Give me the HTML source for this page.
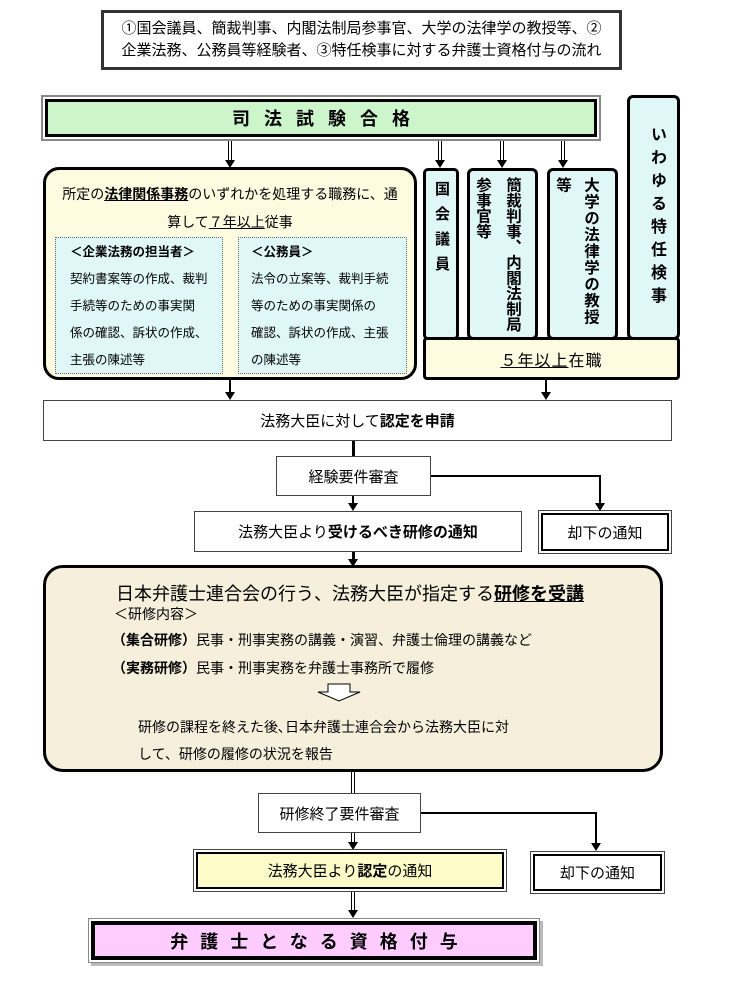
<!DOCTYPE html>
<html><head><meta charset="utf-8">
<style>
body{margin:0;width:741px;height:1005px;background:#fff;position:relative;overflow:hidden;font-family:"Liberation Sans","Noto Sans CJK JP",sans-serif;color:#000}
.a{position:absolute;box-sizing:border-box}
.c{display:flex;align-items:center;justify-content:center}
.vl{position:absolute;background:#000}
.ah{position:absolute;width:0;height:0;border-left:5px solid transparent;border-right:5px solid transparent;border-top:8px solid #000}
.dl{position:absolute;width:4px;border-left:1.5px solid #000;border-right:1.5px solid #000;box-sizing:border-box}
.vt{writing-mode:vertical-rl;font-weight:bold;font-size:15px}
u{text-decoration:underline}
</style></head><body>

<div class="a c" style="left:101px;top:10px;width:521px;height:60px;border:3px solid #333;font-size:15px;line-height:22px;text-align:center;flex-direction:column">
<div>①国会議員、簡裁判事、内閣法制局参事官、大学の法律学の教授等、②</div>
<div>企業法務、公務員等経験者、③特任検事に対する弁護士資格付与の流れ</div>
</div>

<div class="a c" style="left:41px;top:95px;width:560px;height:46px;border:2px solid #888;background:#fff;padding:2px">
<div class="c" style="width:100%;height:100%;border:3px solid #000;background:#ccf5cc;font-weight:bold;font-size:18px;letter-spacing:14px;padding-left:14px;box-sizing:border-box">司法試験合格</div>
</div>

<div class="dl" style="left:228px;top:141px;height:20px"></div><div class="ah" style="left:225px;top:160px"></div>
<div class="dl" style="left:438px;top:141px;height:20px"></div><div class="ah" style="left:435px;top:160px"></div>
<div class="dl" style="left:500px;top:141px;height:20px"></div><div class="ah" style="left:497px;top:160px"></div>
<div class="dl" style="left:561px;top:141px;height:20px"></div><div class="ah" style="left:558px;top:160px"></div>

<div class="a" style="left:43px;top:167px;width:374px;height:213px;border:3px solid #000;border-radius:16px;background:#fdfbe0">
<div style="position:absolute;left:0;right:0;top:10px;text-align:center;font-size:14px;line-height:28px">所定の<b><u>法律関係事務</u></b>のいずれかを処理する職務に、通<br>算して<u>７年以上</u>従事</div>
<div class="a" style="left:9px;top:67px;width:168px;height:137px;border:1px dotted #666;background:#dff7f7;font-size:12.5px;line-height:27px;padding:1px 0 0 14px">
<b>＜企業法務の担当者＞</b><br>契約書案等の作成、裁判<br>手続等のための事実関<br>係の確認、訴状の作成、<br>主張の陳述等</div>
<div class="a" style="left:192px;top:67px;width:169px;height:137px;border:1px dotted #666;background:#dff7f7;font-size:12.5px;line-height:27px;padding:1px 0 0 12px">
<b>＜公務員＞</b><br>法令の立案等、裁判手続<br>等のための事実関係の<br>確認、訴状の作成、主張<br>の陳述等</div>
</div>

<div class="a" style="left:423px;top:168px;width:36px;height:172px;border:3px solid #000;border-radius:5px;background:#dff7f7"><div class="vt" style="position:absolute;left:5px;top:10px;letter-spacing:10px">国会議員</div></div>
<div class="a" style="left:467px;top:168px;width:71px;height:172px;border:3px solid #000;border-radius:6px;background:#dff7f7"><div class="vt" style="position:absolute;right:8px;top:6px;line-height:30px;font-size:15.5px">簡裁判事、内閣法制局<br>参事官等</div></div>
<div class="a" style="left:547px;top:168px;width:71px;height:172px;border:3px solid #000;border-radius:6px;background:#dff7f7"><div class="vt" style="position:absolute;right:11px;top:6px;line-height:28px;font-size:15.5px;letter-spacing:1px">大学の法律学の教授<br>等</div></div>
<div class="a" style="left:627px;top:95px;width:53px;height:245px;border:3px solid #000;border-radius:6px;background:#dff7f7"><div class="vt" style="position:absolute;left:14px;top:28px;letter-spacing:7px;font-size:16px">いわゆる特任検事</div></div>
<div class="a c" style="left:423px;top:337px;width:257px;height:43px;border:3px solid #000;border-radius:4px;background:#fdfbe0;font-size:16px;letter-spacing:1px"><u>５年以上</u>在職</div>

<div class="vl" style="left:229px;top:380px;width:2px;height:14px"></div><div class="ah" style="left:225px;top:392px"></div>
<div class="vl" style="left:545px;top:380px;width:2px;height:14px"></div><div class="ah" style="left:541px;top:392px"></div>

<div class="a c" style="left:43px;top:400px;width:629px;height:41px;border:1px solid #444;font-size:15px">法務大臣に対して<b>認定を申請</b></div>
<div class="vl" style="left:352px;top:441px;width:3px;height:15px"></div>
<div class="a c" style="left:276px;top:456px;width:155px;height:40px;border:1px solid #444;font-size:15px">経験要件審査</div>
<div class="vl" style="left:431px;top:475px;width:169px;height:2px"></div>
<div class="vl" style="left:599px;top:475px;width:2px;height:30px"></div><div class="ah" style="left:595px;top:503px"></div>
<div class="vl" style="left:352px;top:496px;width:2px;height:8px"></div><div class="ah" style="left:348px;top:503px"></div>
<div class="a c" style="left:194px;top:511px;width:328px;height:41px;border:1px solid #444;font-size:15px">法務大臣より<b>受けるべき研修の通知</b></div>
<div class="a c" style="left:538px;top:510px;width:134px;height:44px;border:1px solid #444;padding:2px"><div class="c" style="width:100%;height:100%;border:2px solid #000;font-size:15px;box-sizing:border-box">却下の通知</div></div>
<div class="vl" style="left:352px;top:552px;width:3px;height:9px"></div><div class="ah" style="left:348px;top:559px"></div>

<div class="a" style="left:43px;top:565px;width:620px;height:207px;border:3px solid #000;border-radius:20px;background:#f6efdc">
<div style="position:absolute;left:70px;top:12px;font-size:18px">日本弁護士連合会の行う、法務大臣が指定する<b><u>研修を受講</u></b></div>
<div style="position:absolute;left:68px;top:36px;font-size:14px">＜研修内容＞</div>
<div style="position:absolute;left:66px;top:62px;font-size:14px"><b>（集合研修）</b>民事・刑事実務の講義・演習、弁護士倫理の講義など</div>
<div style="position:absolute;left:66px;top:90px;font-size:14px"><b>（実務研修）</b>民事・刑事実務を弁護士事務所で履修</div>
<svg style="position:absolute;left:270px;top:115px" width="46" height="20"><polygon points="12,1 34,1 34,9 44,9 23,18 2,9 12,9" fill="#fff" stroke="#000" stroke-width="1"/></svg>
<div style="position:absolute;left:92px;top:146px;font-size:14px;line-height:27px">研修の課程を終えた後､日本弁護士連合会から法務大臣に対<br>して、研修の履修の状況を報告</div>
</div>

<div class="dl" style="left:351px;top:772px;height:21px"></div>
<div class="a c" style="left:258px;top:793px;width:163px;height:40px;border:1px solid #444;font-size:15px">研修終了要件審査</div>
<div class="vl" style="left:421px;top:812px;width:175px;height:2px"></div>
<div class="vl" style="left:595px;top:812px;width:2px;height:32px"></div><div class="ah" style="left:591px;top:843px"></div>
<div class="dl" style="left:351px;top:833px;height:10px"></div><div class="ah" style="left:348px;top:842px"></div>
<div class="a c" style="left:193px;top:849px;width:314px;height:43px;border:1px solid #444;padding:2px"><div class="c" style="width:100%;height:100%;border:2px solid #000;background:#fdfcc8;font-size:15px;box-sizing:border-box">法務大臣より<b>認定</b>の通知</div></div>
<div class="a c" style="left:530px;top:851px;width:135px;height:43px;border:1px solid #444;padding:2px"><div class="c" style="width:100%;height:100%;border:2px solid #000;font-size:15px;box-sizing:border-box">却下の通知</div></div>
<div class="dl" style="left:351px;top:892px;height:19px"></div><div class="ah" style="left:348px;top:910px"></div>

<div class="a" style="left:88px;top:918px;width:452px;height:45px;border:1px solid #888;padding:2px;box-shadow:3px 3px 0 #bbb">
<div class="c" style="width:100%;height:100%;border:4px solid #000;background:#ffccff;font-weight:bold;font-size:18px;letter-spacing:12px;padding-left:12px;box-sizing:border-box">弁護士となる資格付与</div>
</div>

</body></html>
